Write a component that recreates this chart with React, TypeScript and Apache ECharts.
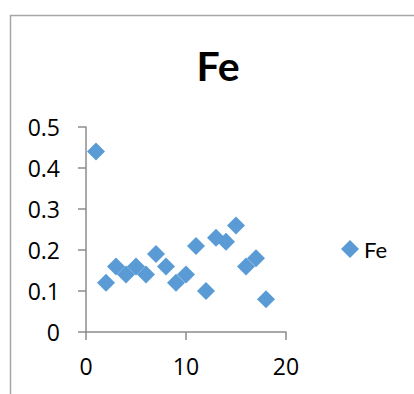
import React, { useEffect, useRef } from "react";
import * as echarts from "echarts";

const xValues = [1, 2, 3, 4, 5, 6, 7, 8, 9, 10, 11, 12, 13, 14, 15, 16, 17, 18];
const yValues = [0.44, 0.12, 0.16, 0.14, 0.16, 0.14, 0.19, 0.16, 0.12, 0.14, 0.21, 0.1, 0.23, 0.22, 0.26, 0.16, 0.18, 0.08];
const seriesName = "Fe";
const titleText = "Fe";

export default function App() {
  const ref = useRef<HTMLDivElement>(null);
  useEffect(() => {
    if (!ref.current) return;
    const chart = echarts.init(ref.current, null, { renderer: "svg" });
    const font = "Lato, 'Open Sans', sans-serif";
    const numFont = "'Open Sans', Lato, sans-serif";
    chart.setOption({
      animation: false,
      backgroundColor: "#ffffff",
      textStyle: { fontFamily: font },
      title: {
        text: titleText,
        left: 213,
        top: 40,
        textAlign: "center",
        textStyle: { fontSize: 41, fontWeight: "bold", color: "#000", fontFamily: font },
      },
      graphic: [
        {
          type: "rect",
          shape: { x: 10.5, y: 15.5, width: 420, height: 400 },
          style: { fill: "none", stroke: "#a6a6a6", lineWidth: 1.5 },
          silent: true,
        },
      ],
      legend: {
        left: 336,
        top: 233,
        icon: "diamond",
        itemWidth: 18,
        itemHeight: 18,
        itemGap: 4,
        data: [seriesName],
        textStyle: { fontSize: 22, color: "#000", fontFamily: font },
      },
      grid: { left: 86, right: 128, top: 127, bottom: 62, containLabel: false },
      xAxis: {
        type: "value",
        min: 0,
        max: 20,
        interval: 10,
        splitLine: { show: false },
        axisLine: { show: true, onZero: false, lineStyle: { color: "#8c8c8c", width: 1.5 } },
        axisTick: { show: true, inside: false, length: 8, lineStyle: { color: "#8c8c8c", width: 1.5 } },
        axisLabel: { fontSize: 23, color: "#000", margin: 22, fontFamily: numFont },
      },
      yAxis: {
        type: "value",
        min: 0,
        max: 0.5,
        interval: 0.1,
        splitLine: { show: false },
        axisLine: { show: true, onZero: false, lineStyle: { color: "#8c8c8c", width: 1.5 } },
        axisTick: { show: true, inside: false, length: 8, lineStyle: { color: "#8c8c8c", width: 1.5 } },
        axisLabel: { fontSize: 23, color: "#000", margin: 26, fontFamily: numFont },
      },
      series: [
        {
          name: seriesName,
          type: "scatter",
          symbol: "diamond",
          symbolSize: 18,
          itemStyle: { color: "#5b9bd5", opacity: 1 },
          data: xValues.map((x, i) => [x, yValues[i]]),
        },
      ],
    });
    return () => chart.dispose();
  }, []);
  return (
    <div
      ref={ref}
      style={{ position: "fixed", left: 0, top: 0, width: 414, height: 394 }}
    />
  );
}
